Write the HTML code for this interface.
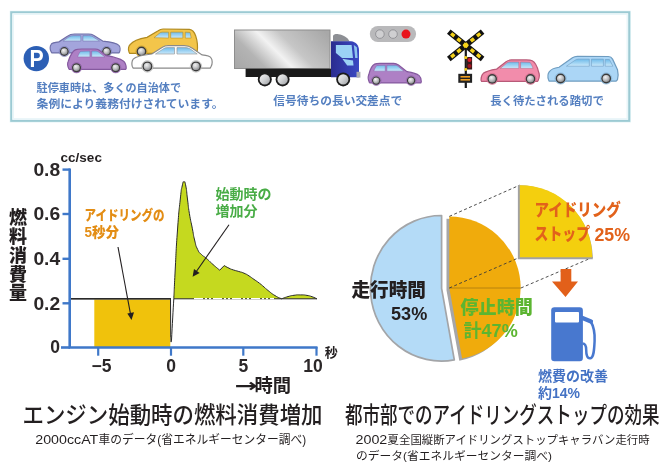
<!DOCTYPE html>
<html lang="ja">
<head>
<meta charset="utf-8">
<title>アイドリングストップの効果</title>
<style>
html,body{margin:0;padding:0;background:#fff;}
body{width:664px;height:476px;overflow:hidden;font-family:"Liberation Sans","Noto Sans CJK JP",sans-serif;}
svg{display:block;}
text{font-family:"Liberation Sans","Noto Sans CJK JP",sans-serif;}
.b{font-weight:bold;}
.blue{fill:#547fc0;font-weight:bold;font-size:11.4px;}
.ax{fill:#2b2728;font-weight:bold;font-size:17.5px;}
</style>
</head>
<body>
<svg width="664" height="476" viewBox="0 0 664 476">
<defs>
<radialGradient id="hub" cx="0.38" cy="0.32" r="0.75"><stop offset="0" stop-color="#f2f2f2"/><stop offset="0.5" stop-color="#c4c5c7"/><stop offset="1" stop-color="#85878a"/></radialGradient>
<linearGradient id="hub2" x1="0" y1="0" x2="1" y2="1"><stop offset="0" stop-color="#f4f4f4"/><stop offset="0.5" stop-color="#d0d2d4"/><stop offset="1" stop-color="#9d9fa2"/></linearGradient>
<linearGradient id="glass" x1="0" y1="0" x2="0" y2="1"><stop offset="0" stop-color="#6fbbea"/><stop offset="1" stop-color="#cbe9fa"/></linearGradient>
<linearGradient id="silver" gradientUnits="userSpaceOnUse" x1="236" y1="79" x2="304" y2="11"><stop offset="0" stop-color="#a2a2a2"/><stop offset="0.3" stop-color="#b4b4b4"/><stop offset="0.5" stop-color="#f2f2f2"/><stop offset="0.66" stop-color="#c6c6c6"/><stop offset="1.1" stop-color="#a8a8a8"/></linearGradient>
<linearGradient id="cab" x1="0" y1="0" x2="1" y2="0"><stop offset="0" stop-color="#2a2c8f"/><stop offset="1" stop-color="#3a49c4"/></linearGradient>
</defs>
<rect x="0" y="0" width="664" height="476" fill="#ffffff"/>

<rect x="10.3" y="11.3" width="620" height="110.6" fill="none" stroke="#e3f3f7" stroke-width="1.2"/><rect x="11.3" y="12.3" width="617.9" height="108.5" fill="#ffffff" stroke="#9ccad3" stroke-width="2.1"/><rect x="13.2" y="14.2" width="614.1" height="104.7" fill="none" stroke="#e9f6f9" stroke-width="1.6"/>
<circle cx="36.3" cy="58.6" r="12.7" fill="#2c5fb5"/>
<text x="29.4" y="66.9" font-size="24.5" font-weight="bold" fill="#ffffff" textLength="14.2" lengthAdjust="spacingAndGlyphs">P</text>
<g transform="translate(49.8,34) scale(0.705,0.5416666666666666)"><path d="M2,33 C0,29 0,22 2,19 C3,16.5 6,15.5 13,14.5 L25,4 C28,1.2 31,0 35,0 L55,0 C58,0 60,0.8 62,2.5 L75,13 C86,14.5 95,17 98,21 C100,24 100,30 99,33 L98,35 L3,35 Z" fill="#a3a5dc" stroke="#6f70a8" stroke-width="1.2" vector-effect="non-scaling-stroke"/><path d="M27,5.5 C29,3.8 31,3 34,3 L44,3 L44,13 L19,13 Z" fill="url(#glass)" stroke="#6f70a8" stroke-width="0.8"/><path d="M47,3 L55,3 C58,3 59.5,3.8 61,5 L70.5,13 L47,13 Z" fill="url(#glass)" stroke="#6f70a8" stroke-width="0.8"/></g><circle cx="64.3" cy="51.5" r="5.1000000000000005" fill="#a3a5dc" stroke="#6f70a8" stroke-width="0.5"/><circle cx="64.3" cy="51.5" r="4.4" fill="#3a3a3a"/><circle cx="64.3" cy="51.5" r="3.21" fill="url(#hub)"/><circle cx="106.6" cy="51.5" r="5.1000000000000005" fill="#a3a5dc" stroke="#6f70a8" stroke-width="0.5"/><circle cx="106.6" cy="51.5" r="4.4" fill="#3a3a3a"/><circle cx="106.6" cy="51.5" r="3.21" fill="url(#hub)"/>
<g transform="translate(67.7,49) scale(0.585,0.5833333333333334)"><path d="M2,34 C0,30 -1,25 1,21 C4,12 8,4 13,1.5 C16,0 20,0 24,0 L47,0 C50,0 52,0.8 54,2.2 L66,11.5 C78,13.5 90,17 95,20.5 C99,23.5 100,29 100,33 L99,35 L3,35 Z" fill="#ae80c5" stroke="#85599f" stroke-width="1.2" vector-effect="non-scaling-stroke"/><path d="M22,4 L38,3.5 L38,13.5 L17,13.5 C18.5,9.5 20,6 22,4 Z" fill="url(#glass)" stroke="#85599f" stroke-width="0.8"/><path d="M41,3.5 L48,3.5 C50,3.5 51.5,4.2 53,5.3 L63.5,13.5 L41,13.5 Z" fill="url(#glass)" stroke="#85599f" stroke-width="0.8"/></g><circle cx="76.5" cy="67.7" r="5.2" fill="#ae80c5" stroke="#85599f" stroke-width="0.5"/><circle cx="76.5" cy="67.7" r="4.5" fill="#3a3a3a"/><circle cx="76.5" cy="67.7" r="3.29" fill="url(#hub)"/><circle cx="115.7" cy="67.7" r="5.2" fill="#ae80c5" stroke="#85599f" stroke-width="0.5"/><circle cx="115.7" cy="67.7" r="4.5" fill="#3a3a3a"/><circle cx="115.7" cy="67.7" r="3.29" fill="url(#hub)"/>
<g transform="translate(197.8,29) scale(-0.695,0.6944444444444444)"><path d="M1,33 C0,27 1,16 3,10 C5,4 8,1 12,0.5 L50,0 C53,0 55,1 57,2.5 L73,12 C84,14 94,18 97,22 C100,25 100,30 99,33 L98,35 L3,35 Z" fill="#f3c54a" stroke="#b08a20" stroke-width="1.2" vector-effect="non-scaling-stroke"/><path d="M11,5 L18,4.5 L18,13 L9.5,13 Z" fill="url(#glass)" stroke="#b08a20" stroke-width="0.8"/><path d="M21.5,4.5 L39,4.5 L39,13 L21.5,13 Z" fill="url(#glass)" stroke="#b08a20" stroke-width="0.8"/><path d="M42,4.5 L51,4.5 C53,4.5 54,5.2 55,6 L63,12.5 L42,13 Z" fill="url(#glass)" stroke="#b08a20" stroke-width="0.8"/></g><circle cx="141.5" cy="51.5" r="5.6000000000000005" fill="#f3c54a" stroke="#b08a20" stroke-width="0.5"/><circle cx="141.5" cy="51.5" r="4.9" fill="#3a3a3a"/><circle cx="141.5" cy="51.5" r="3.58" fill="url(#hub)"/>
<g transform="translate(212.6,45.7) scale(-0.81,0.6388888888888888)"><path d="M2,33 C0,29 0,22 2,19 C3,16.5 6,15.5 13,14.5 L25,4 C28,1.2 31,0 35,0 L55,0 C58,0 60,0.8 62,2.5 L75,13 C86,14.5 95,17 98,21 C100,24 100,30 99,33 L98,35 L3,35 Z" fill="#ffffff" stroke="#8a8a8a" stroke-width="1.2" vector-effect="non-scaling-stroke"/><path d="M27,5.5 C29,3.8 31,3 34,3 L44,3 L44,13 L19,13 Z" fill="url(#glass)" stroke="#8a8a8a" stroke-width="0.8"/><path d="M47,3 L55,3 C58,3 59.5,3.8 61,5 L70.5,13 L47,13 Z" fill="url(#glass)" stroke="#8a8a8a" stroke-width="0.8"/></g><circle cx="196.0" cy="66.4" r="5.7" fill="#ffffff" stroke="#8a8a8a" stroke-width="0.5"/><circle cx="196.0" cy="66.4" r="5" fill="#3a3a3a"/><circle cx="196.0" cy="66.4" r="3.65" fill="url(#hub)"/><circle cx="147.4" cy="66.4" r="5.7" fill="#ffffff" stroke="#8a8a8a" stroke-width="0.5"/><circle cx="147.4" cy="66.4" r="5" fill="#3a3a3a"/><circle cx="147.4" cy="66.4" r="3.65" fill="url(#hub)"/>
<rect x="234.5" y="30" width="95.5" height="38.5" fill="url(#silver)" stroke="#8e8e8e" stroke-width="1"/>
<rect x="245.6" y="68.7" width="100" height="8.3" fill="#1a1a1a"/>
<path d="M333,41.5 L333,36 C333.5,34.3 336,33.8 338.5,34.2 C343,35 347.5,37 349.6,41.5 Z" fill="#8d8f94"/>
<path d="M331,41.2 L351,41.2 C356,41.8 358.8,45 359,50 L359,77.2 L331,77.2 Z" fill="url(#cab)"/>
<path d="M335.9,44.9 L351.6,44.9 L353,58 L342,58 L335.9,53 Z" fill="#9bd2f5"/>
<path d="M342.3,58.8 L353,60.4 L353.5,65.4 L347.2,65.4 Z" fill="#9bd2f5"/>
<path d="M353.8,45 L356.8,47.2 L357.6,58 L355.2,58 Z" fill="#8ec4ee"/>
<rect x="356.5" y="71.8" width="3.9" height="5.8" fill="#a9abb0"/>
<circle cx="264.8" cy="79.4" r="7" fill="#1c1c1c"/><circle cx="264.8" cy="79.4" r="5.2" fill="url(#hub2)"/>
<circle cx="282.6" cy="79.4" r="7" fill="#1c1c1c"/><circle cx="282.6" cy="79.4" r="5.2" fill="url(#hub2)"/>
<circle cx="343.2" cy="79.4" r="7" fill="#1c1c1c"/><circle cx="343.2" cy="79.4" r="5.2" fill="url(#hub2)"/>
<rect x="369.8" y="25.9" width="46.3" height="16.2" rx="8.1" fill="#b9b9bb"/>
<circle cx="379.9" cy="34.1" r="4.3" fill="#cfcfd1" stroke="#8f8f93" stroke-width="0.9"/>
<circle cx="393" cy="34.1" r="4.3" fill="#cfcfd1" stroke="#8f8f93" stroke-width="0.9"/>
<circle cx="406" cy="34.1" r="4.5" fill="#e8141c"/>
<g transform="translate(368.3,63.3) scale(0.53,0.5611111111111111)"><path d="M2,34 C0,30 -1,24 1,20 C3,12 7,4 12,1.5 C15,0 18,0 22,0 L48,0 C52,0 54,1 57,3 L73,15 C83,16.5 92,19 96,22 C99,24.5 100,29 100,33 L99,35 L3,35 Z" fill="#ae80c5" stroke="#85599f" stroke-width="1.2" vector-effect="non-scaling-stroke"/><path d="M16,4 L32,3.5 L32,14 L10.5,14 C12,9.5 14,6 16,4 Z" fill="url(#glass)" stroke="#85599f" stroke-width="0.8"/><path d="M35,3.5 L51,3.5 C53,3.5 54.5,4.2 56,5.3 L67,14 L35,14 Z" fill="url(#glass)" stroke="#85599f" stroke-width="0.8"/></g><circle cx="376.2" cy="80.6" r="4.9" fill="#ae80c5" stroke="#85599f" stroke-width="0.5"/><circle cx="376.2" cy="80.6" r="4.2" fill="#3a3a3a"/><circle cx="376.2" cy="80.6" r="3.07" fill="url(#hub)"/><circle cx="411.1" cy="80.6" r="4.9" fill="#ae80c5" stroke="#85599f" stroke-width="0.5"/><circle cx="411.1" cy="80.6" r="4.2" fill="#3a3a3a"/><circle cx="411.1" cy="80.6" r="3.07" fill="url(#hub)"/>
<rect x="464.7" y="45" width="2.2" height="43" fill="#1a1a1a"/>
<g stroke-linecap="butt">
<line x1="448.8" y1="31.6" x2="482.6" y2="59" stroke="#111" stroke-width="5.7"/>
<line x1="482.6" y1="31.6" x2="448.8" y2="59" stroke="#111" stroke-width="5.7"/>
<line x1="448.8" y1="31.6" x2="482.6" y2="59" stroke="#f5d21a" stroke-width="3.5" stroke-dasharray="0 3 4.2 3.8 4.2 4.05 5 4.05 4.2 3.8 4.2 3"/>
<line x1="482.6" y1="31.6" x2="448.8" y2="59" stroke="#f5d21a" stroke-width="3.5" stroke-dasharray="0 3 4.2 3.8 4.2 4.05 5 4.05 4.2 3.8 4.2 3"/>
</g>
<rect x="466.9" y="57" width="5.2" height="12.5" fill="#3a1a1a"/>
<circle cx="469.5" cy="60" r="2" fill="#d81e2a"/><circle cx="469.5" cy="66" r="2" fill="#a01420"/>
<circle cx="465.8" cy="57.5" r="1.6" fill="#f5d21a"/><circle cx="465.8" cy="69.5" r="1.4" fill="#f5d21a"/>
<rect x="458.3" y="73.8" width="13.8" height="9" fill="#222"/>
<rect x="460.5" y="76" width="9.5" height="1.6" fill="#f0a020"/><rect x="460.5" y="79" width="9.5" height="1.6" fill="#f0a020"/>
<g transform="translate(539.2,59.9) scale(-0.5820000000000001,0.6111111111111112)"><path d="M2,34 C0,30 -1,24 1,20 C3,12 7,4 12,1.5 C15,0 18,0 22,0 L48,0 C52,0 54,1 57,3 L73,15 C83,16.5 92,19 96,22 C99,24.5 100,29 100,33 L99,35 L3,35 Z" fill="#f28cab" stroke="#b85a78" stroke-width="1.2" vector-effect="non-scaling-stroke"/><path d="M16,4 L32,3.5 L32,14 L10.5,14 C12,9.5 14,6 16,4 Z" fill="url(#glass)" stroke="#b85a78" stroke-width="0.8"/><path d="M35,3.5 L51,3.5 C53,3.5 54.5,4.2 56,5.3 L67,14 L35,14 Z" fill="url(#glass)" stroke="#b85a78" stroke-width="0.8"/></g><circle cx="530.5" cy="78.9" r="5.5" fill="#f28cab" stroke="#b85a78" stroke-width="0.5"/><circle cx="530.5" cy="78.9" r="4.8" fill="#3a3a3a"/><circle cx="530.5" cy="78.9" r="3.50" fill="url(#hub)"/><circle cx="492.2" cy="78.9" r="5.5" fill="#f28cab" stroke="#b85a78" stroke-width="0.5"/><circle cx="492.2" cy="78.9" r="4.8" fill="#3a3a3a"/><circle cx="492.2" cy="78.9" r="3.50" fill="url(#hub)"/>
<g transform="translate(618.1999999999999,56.3) scale(-0.7040000000000001,0.7083333333333334)"><path d="M1,33 C0,29 0,23 1,19 L8,4 C9.5,1.2 11,0.4 14,0.3 L58,0 C61,0 63,0.8 65,2.2 L84,15.5 C91,16.5 96,19 98,22 C100,25 100,30 99,33 L98,35 L3,35 Z" fill="#abd6f6" stroke="#6e9cc0" stroke-width="1.2" vector-effect="non-scaling-stroke"/><path d="M12.5,4.5 L18.5,4.5 L18.5,14 L7.5,14 Z" fill="url(#glass)" stroke="#6e9cc0" stroke-width="0.8"/><path d="M21,4 L38,4 L38,14 L21,14 Z" fill="url(#glass)" stroke="#6e9cc0" stroke-width="0.8"/><path d="M41,4 L57,4 C59,4 60.5,4.8 62,6 L73.5,14 L41,14 Z" fill="url(#glass)" stroke="#6e9cc0" stroke-width="0.8"/></g><circle cx="606.2" cy="78.5" r="5.6000000000000005" fill="#abd6f6" stroke="#6e9cc0" stroke-width="0.5"/><circle cx="606.2" cy="78.5" r="4.9" fill="#3a3a3a"/><circle cx="606.2" cy="78.5" r="3.58" fill="url(#hub)"/><circle cx="560.6" cy="78.5" r="5.6000000000000005" fill="#abd6f6" stroke="#6e9cc0" stroke-width="0.5"/><circle cx="560.6" cy="78.5" r="4.9" fill="#3a3a3a"/><circle cx="560.6" cy="78.5" r="3.58" fill="url(#hub)"/>
<text class="blue" x="36.6" y="92.3" textLength="144.5" lengthAdjust="spacingAndGlyphs">駐停車時は、多くの自治体で</text>
<text class="blue" x="36.6" y="107.8" textLength="187" lengthAdjust="spacingAndGlyphs">条例により義務付けされています。</text>
<text class="blue" x="273.3" y="104.8" textLength="129" lengthAdjust="spacingAndGlyphs">信号待ちの長い交差点で</text>
<text class="blue" x="490.2" y="104.8" textLength="113.6" lengthAdjust="spacingAndGlyphs">長く待たされる踏切で</text>
<rect x="94.3" y="299.5" width="76" height="48" fill="#f0c20c"/>
<path d="M173.8,298.8 C174.3,289.2 174.0,292.9 175.2,270 C176.4,247.1 175.8,253.3 177.5,230 C179.2,206.7 178.6,214.7 180.2,200 C181.8,185.3 180.9,192.0 182.2,186 C183.5,180.0 182.8,182.0 184,182 C185.2,182.0 184.6,180.0 185.8,186 C187.0,192.0 186.4,190.8 187.6,200 C188.8,209.2 187.8,204.0 189.4,213.6 C191.0,223.2 190.7,220.0 192.4,228.8 C194.1,237.6 192.9,233.1 194.6,240 C196.3,246.9 195.3,244.6 197.6,249.4 C199.9,254.2 198.5,251.5 201.5,254.5 C204.5,257.5 202.7,255.2 206.5,258.5 C210.3,261.8 208.6,260.6 213,264.5 C217.4,268.4 217.5,268.3 219.7,270.2 L224.2,265.6 C225.8,266.5 225.9,266.7 229,268.2 C232.1,269.7 230.3,268.9 233.6,270 C236.9,271.1 235.3,270.4 238.8,271.5 C242.3,272.6 240.6,271.7 244,273.2 C247.4,274.7 245.7,273.8 249,275.9 C252.3,278.0 250.5,277.0 254,279.4 C257.5,281.8 256.1,280.7 259.4,283.2 C262.7,285.7 261.1,284.5 264,287 C266.9,289.5 264.5,287.7 268.2,290.6 C271.9,293.5 270.6,292.9 275,295.6 C279.4,298.3 279.3,297.7 281.5,298.8 Z" fill="#c5d91f"/>
<path d="M281.5,298.8 C283.7,298.1 283.8,297.8 288,296.6 C292.2,295.4 289.8,295.9 294,295.3 C298.2,294.7 296.3,294.9 300.6,294.9 C304.9,294.9 303.2,294.8 307,295.4 C310.8,296.0 308.7,295.6 312,296.7 C315.3,297.8 315.2,298.1 316.8,298.8 Z" fill="#c5d91f"/>
<path d="M70,298.8 L170.5,298.8 L170.7,336 C170.8,342 171.1,344 171.5,340 C172.3,325 173.1,310 173.8,298.8 C174.3,289.2 174.0,292.9 175.2,270 C176.4,247.1 175.8,253.3 177.5,230 C179.2,206.7 178.6,214.7 180.2,200 C181.8,185.3 180.9,192.0 182.2,186 C183.5,180.0 182.8,182.0 184,182 C185.2,182.0 184.6,180.0 185.8,186 C187.0,192.0 186.4,190.8 187.6,200 C188.8,209.2 187.8,204.0 189.4,213.6 C191.0,223.2 190.7,220.0 192.4,228.8 C194.1,237.6 192.9,233.1 194.6,240 C196.3,246.9 195.3,244.6 197.6,249.4 C199.9,254.2 198.5,251.5 201.5,254.5 C204.5,257.5 202.7,255.2 206.5,258.5 C210.3,261.8 208.6,260.6 213,264.5 C217.4,268.4 217.5,268.3 219.7,270.2 L224.2,265.6 C225.8,266.5 225.9,266.7 229,268.2 C232.1,269.7 230.3,268.9 233.6,270 C236.9,271.1 235.3,270.4 238.8,271.5 C242.3,272.6 240.6,271.7 244,273.2 C247.4,274.7 245.7,273.8 249,275.9 C252.3,278.0 250.5,277.0 254,279.4 C257.5,281.8 256.1,280.7 259.4,283.2 C262.7,285.7 261.1,284.5 264,287 C266.9,289.5 264.5,287.7 268.2,290.6 C271.9,293.5 270.6,292.9 275,295.6 C279.4,298.3 279.3,297.7 281.5,298.8 C283.7,298.1 283.8,297.8 288,296.6 C292.2,295.4 289.8,295.9 294,295.3 C298.2,294.7 296.3,294.9 300.6,294.9 C304.9,294.9 303.2,294.8 307,295.4 C310.8,296.0 308.7,295.6 312,296.7 C315.3,297.8 315.2,298.1 316.8,298.8" fill="none" stroke="#2a2a2a" stroke-width="1" stroke-linejoin="round"/>
<line x1="70" y1="298.8" x2="171" y2="298.8" stroke="#2a2a2a" stroke-width="1.4"/>
<line x1="174" y1="298.8" x2="317" y2="298.8" stroke="#2a2a2a" stroke-width="1"/>
<line x1="194" y1="298.6" x2="274" y2="298.6" stroke="#ffffff" stroke-width="1.2" stroke-dasharray="9 2 2 2 2 2"/>
<path d="M69.7,168.5 L69.7,347.5 L317.5,347.5" fill="none" stroke="#3f78c9" stroke-width="2.6"/>
<line x1="62.5" y1="169.6" x2="70" y2="169.6" stroke="#3f78c9" stroke-width="2.4"/>
<line x1="62.5" y1="214" x2="70" y2="214" stroke="#3f78c9" stroke-width="2.4"/>
<line x1="62.5" y1="258.8" x2="70" y2="258.8" stroke="#3f78c9" stroke-width="2.4"/>
<line x1="62.5" y1="303.3" x2="70" y2="303.3" stroke="#3f78c9" stroke-width="2.4"/>
<line x1="61" y1="347.5" x2="70" y2="347.5" stroke="#3f78c9" stroke-width="2.6"/>
<line x1="98.2" y1="347" x2="98.2" y2="355.7" stroke="#3f78c9" stroke-width="2.2"/>
<line x1="171" y1="347" x2="171" y2="355.7" stroke="#3f78c9" stroke-width="2.2"/>
<line x1="243.3" y1="347" x2="243.3" y2="355.7" stroke="#3f78c9" stroke-width="2.2"/>
<line x1="316.5" y1="347" x2="316.5" y2="355.7" stroke="#3f78c9" stroke-width="2.2"/>
<text class="ax" x="33.4" y="175.9" textLength="26.8" lengthAdjust="spacingAndGlyphs">0.8</text>
<text class="ax" x="33.4" y="220.3" textLength="26.8" lengthAdjust="spacingAndGlyphs">0.6</text>
<text class="ax" x="33.4" y="265.1" textLength="26.8" lengthAdjust="spacingAndGlyphs">0.4</text>
<text class="ax" x="33.4" y="309.6" textLength="26.8" lengthAdjust="spacingAndGlyphs">0.2</text>
<text class="ax" x="60" y="353.2" text-anchor="end">0</text>
<text x="60.6" y="162.4" font-size="13.5" font-weight="bold" fill="#231f20">cc/sec</text>
<text class="ax" x="101.5" y="371.6" text-anchor="middle" font-size="16.8">−5</text>
<text class="ax" x="171" y="371.6" text-anchor="middle" font-size="16.8">0</text>
<text class="ax" x="243.3" y="371.6" text-anchor="middle" font-size="16.8">5</text>
<text class="ax" x="313" y="371.6" text-anchor="middle" font-size="16.8">10</text>
<text x="324.8" y="357.3" font-size="13" font-weight="bold" fill="#231f20">秒</text>
<text transform="translate(234.4,391.6) scale(1.2,0.82)" font-size="23" font-weight="bold" fill="#231f20" style="font-family:'DejaVu Sans',sans-serif">→</text>
<text x="254.6" y="392.3" font-size="18.3" font-weight="bold" fill="#231f20">時間</text>
<text x="18" y="224.2" text-anchor="middle" font-size="18" font-weight="900" fill="#231f20">燃</text>
<text x="18" y="243.0" text-anchor="middle" font-size="18" font-weight="900" fill="#231f20">料</text>
<text x="18" y="261.8" text-anchor="middle" font-size="18" font-weight="900" fill="#231f20">消</text>
<text x="18" y="280.6" text-anchor="middle" font-size="18" font-weight="900" fill="#231f20">費</text>
<text x="18" y="299.4" text-anchor="middle" font-size="18" font-weight="900" fill="#231f20">量</text>
<text x="84.5" y="220.2" font-size="14" font-weight="900" fill="#e38d14" textLength="80" lengthAdjust="spacingAndGlyphs">アイドリングの</text>
<text x="84.5" y="236.8" font-size="14" font-weight="900" fill="#e38d14" textLength="34.5" lengthAdjust="spacingAndGlyphs">5秒分</text>
<text x="215.6" y="199" font-size="14" font-weight="bold" fill="#48ac45">始動時の</text>
<text x="215.6" y="216.4" font-size="14" font-weight="bold" fill="#48ac45">増加分</text>
<line x1="118" y1="247" x2="130.5" y2="314" stroke="#231f20" stroke-width="1.1"/>
<path d="M131.5,320 L127.3,313.5 L134,312.3 Z" fill="#231f20"/>
<line x1="229" y1="224.7" x2="196" y2="272" stroke="#231f20" stroke-width="1.1"/>
<path d="M192.6,276.7 L194,269 L199.6,273 Z" fill="#231f20"/>
<path d="M441.6,288.3 L441.6,215.5 A71.0,72.8 0 1 0 454.3,359.9 Z" fill="#b4dbf7" stroke="#a3a5a8" stroke-width="1.7" stroke-linejoin="round"/>
<path transform="translate(-2.8,2.3)" d="M449.3,288.0 L449.3,214.1 L449.3,216.4 A71.6,71.6 0 0 1 462.1,358.4 Z" fill="#a6a6a8"/>
<path d="M449.3,288.0 L449.3,216.4 A71.6,71.6 0 0 1 462.1,358.4 Z" fill="#f0ab0c"/>
<line x1="449.3" y1="288.0" x2="520.9" y2="288.0" stroke="#a87a10" stroke-width="0.8"/>
<g stroke="#3a3a3a" stroke-width="0.9" stroke-dasharray="3 2.4" fill="none">
<line x1="449.3" y1="216.4" x2="519.6" y2="185.2"/>
<line x1="449.3" y1="288.0" x2="519.6" y2="257.4"/>
<line x1="520.9" y1="288.0" x2="592.5" y2="257.4"/>
</g>
<path d="M517.9,185.2 L517.9,259.3 L592.8,259.3 A74,74 0 0 0 517.9,185.2 Z" fill="#a2a2a4"/>
<path d="M519.8,185.2 L519.8,257.2 L592.3,257.2 A72.3,72.3 0 0 0 519.8,185.2 Z" fill="#f4cf0e"/>
<text x="534.6" y="216.2" font-size="17.2" font-weight="900" fill="#e2621b" textLength="86" lengthAdjust="spacingAndGlyphs">アイドリング</text>
<text x="534.6" y="240.4" font-size="17.2" font-weight="900" fill="#e2621b" textLength="55.5" lengthAdjust="spacingAndGlyphs">ストップ</text>
<text x="594.4" y="240.9" font-size="19" font-weight="bold" fill="#e2621b" textLength="35.6" lengthAdjust="spacingAndGlyphs">25%</text>
<path d="M560.6,269 L571.3,269 L571.3,281.6 L578,281.6 L565.5,297 L552,281.6 L560.6,281.6 Z" fill="#e2601a"/>
<rect x="551.2" y="307.3" width="31.7" height="54" rx="3.2" fill="#4878cf"/>
<rect x="555" y="312" width="24" height="10.4" rx="0.8" fill="#ffffff"/>
<path d="M582.5,318 L591,321.5" fill="none" stroke="#4878cf" stroke-width="4.2" stroke-linecap="round"/>
<path d="M590.5,321 C593.5,326 595,333 594.6,341 C594.2,350 593.8,357.5 590.3,358.3 C587,358.8 586.2,354 586.2,350 C586.2,345.5 585,343.5 582.5,343.5" fill="none" stroke="#4878cf" stroke-width="2.5" stroke-linejoin="round"/>
<text x="538" y="381" font-size="14" font-weight="bold" fill="#4472c4">燃費の改善</text>
<text x="538" y="397.5" font-size="14" font-weight="bold" fill="#4472c4">約14%</text>
<text x="351.4" y="296.5" font-size="19" font-weight="900" fill="#231f20" textLength="74.5" lengthAdjust="spacingAndGlyphs">走行時間</text>
<text x="391" y="320" font-size="19" font-weight="bold" fill="#231f20" textLength="36.3" lengthAdjust="spacingAndGlyphs">53%</text>
<text x="460.5" y="314" font-size="18.5" font-weight="900" fill="#5cb531" textLength="72.3" lengthAdjust="spacingAndGlyphs">停止時間</text>
<text x="463.5" y="336.8" font-size="18" font-weight="bold" fill="#5cb531" textLength="54.2" lengthAdjust="spacingAndGlyphs">計47%</text>
<text x="22.5" y="422.9" font-size="23.2" fill="#231f20" font-weight="500" textLength="300" lengthAdjust="spacingAndGlyphs">エンジン始動時の燃料消費増加</text>
<text x="35.3" y="443.8" font-size="13.7" fill="#231f20" textLength="63" lengthAdjust="spacingAndGlyphs">2000ccAT</text>
<text x="98.6" y="443.6" font-size="12" fill="#231f20" textLength="207.5" lengthAdjust="spacingAndGlyphs">車のデータ(省エネルギーセンター調べ)</text>
<text x="345" y="423" font-size="23.2" fill="#231f20" font-weight="500" textLength="314.5" lengthAdjust="spacingAndGlyphs">都市部でのアイドリングストップの効果</text>
<text x="355.5" y="443.8" font-size="13.7" fill="#231f20" textLength="31.8" lengthAdjust="spacingAndGlyphs">2002</text>
<text x="387.6" y="443.6" font-size="11.8" fill="#231f20" textLength="262" lengthAdjust="spacingAndGlyphs">夏全国縦断アイドリングストップキャラバン走行時</text>
<text x="356" y="459.6" font-size="11.8" fill="#231f20" textLength="196" lengthAdjust="spacingAndGlyphs">のデータ(省エネルギーセンター調べ)</text>
</svg>
</body>
</html>
